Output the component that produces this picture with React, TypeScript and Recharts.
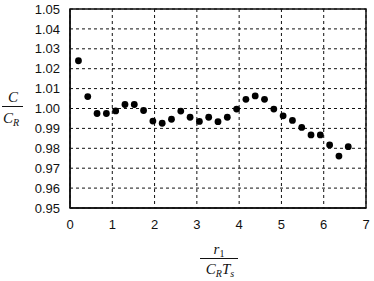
import {
  ScatterChart,
  Scatter,
  XAxis,
  YAxis,
  CartesianGrid,
  ReferenceArea,
} from "recharts";

// normalized time r1/(C_R*Ts) and ratio C/C_R
const xValues = [
  0.2, 0.42, 0.64, 0.86, 1.08, 1.3, 1.52, 1.74, 1.96, 2.18, 2.4, 2.62, 2.84,
  3.06, 3.28, 3.5, 3.72, 3.94, 4.16, 4.38, 4.6, 4.82, 5.04, 5.26, 5.48, 5.7,
  5.92, 6.14, 6.36, 6.58,
];
const yValues = [
  1.024, 1.006, 0.9975, 0.9975, 0.9988, 1.002, 1.002, 0.999, 0.9937, 0.9926,
  0.9946, 0.9987, 0.9956, 0.9935, 0.9956, 0.9934, 0.9956, 0.9997, 1.0046,
  1.0063, 1.0046, 0.9997, 0.9963, 0.994, 0.9905, 0.9867, 0.9867, 0.9817,
  0.9761, 0.9808,
];
const xTicks = [0, 1, 2, 3, 4, 5, 6, 7];
const yTicks = [
  0.95, 0.96, 0.97, 0.98, 0.99, 1.0, 1.01, 1.02, 1.03, 1.04, 1.05,
];

const points = xValues.map((x, i) => ({ x, y: yValues[i] }));

const tickStyle = { fontSize: 13, fill: "#111", fontFamily: "Liberation Sans, Arial, sans-serif" };
const serif: React.CSSProperties = {
  position: "absolute",
  fontFamily: "Liberation Serif, Times New Roman, serif",
  fontStyle: "italic",
  fontSize: 15,
  lineHeight: "15px",
  color: "#111",
  whiteSpace: "nowrap",
  textAlign: "center",
};

const Dot = (props: any) => <circle cx={props.cx} cy={props.cy} r={3.4} fill="#000" />;

export default function App() {
  return (
    <div style={{ position: "absolute", left: 0, top: 0, width: 374, height: 281, background: "#fff" }}>
      <ScatterChart width={374} height={281} margin={{ top: 9, right: 8, left: 0, bottom: 0 }}>
        <CartesianGrid stroke="#111" strokeDasharray="3 3" strokeWidth={1} />
        <XAxis
          type="number"
          dataKey="x"
          domain={[0, 7]}
          ticks={xTicks}
          height={73}
          tick={tickStyle}
          tickSize={0}
          tickMargin={12}
          axisLine={{ stroke: "#111", strokeWidth: 1.5 }}
          tickLine={false}
        />
        <YAxis
          type="number"
          dataKey="y"
          domain={[0.95, 1.05]}
          ticks={yTicks}
          width={70}
          tick={tickStyle}
          tickSize={0}
          tickMargin={10}
          tickFormatter={(v) => Number(v).toFixed(2)}
          axisLine={{ stroke: "#111", strokeWidth: 1.5 }}
          tickLine={false}
          interval={0}
        />
        <ReferenceArea
          x1={0}
          x2={7}
          y1={0.95}
          y2={1.05}
          fill="none"
          fillOpacity={0}
          stroke="#111"
          strokeWidth={1.5}
        />
        <Scatter data={points} fill="#000" shape={Dot} isAnimationActive={false} />
      </ScatterChart>

      {/* y label: C / C_R */}
      <div style={{ ...serif, left: 2, top: 90, width: 22 }}>C</div>
      <div style={{ position: "absolute", left: 2, top: 106, width: 21, height: 1, background: "#111" }} />
      <div style={{ ...serif, left: 0, top: 111, width: 22 }}>
        C<sub style={{ fontSize: 10, verticalAlign: "-3px" }}>R</sub>
      </div>

      {/* x label: r_1 / (C_R T_s) */}
      <div style={{ ...serif, left: 199, top: 242, width: 40 }}>
        r<sub style={{ fontSize: 10, verticalAlign: "-3px", fontStyle: "normal" }}>1</sub>
      </div>
      <div style={{ position: "absolute", left: 200, top: 258, width: 38, height: 1, background: "#111" }} />
      <div style={{ ...serif, left: 196, top: 262, width: 48 }}>
        C<sub style={{ fontSize: 10, verticalAlign: "-3px" }}>R</sub>T<sub style={{ fontSize: 10, verticalAlign: "-3px" }}>s</sub>
      </div>
    </div>
  );
}
